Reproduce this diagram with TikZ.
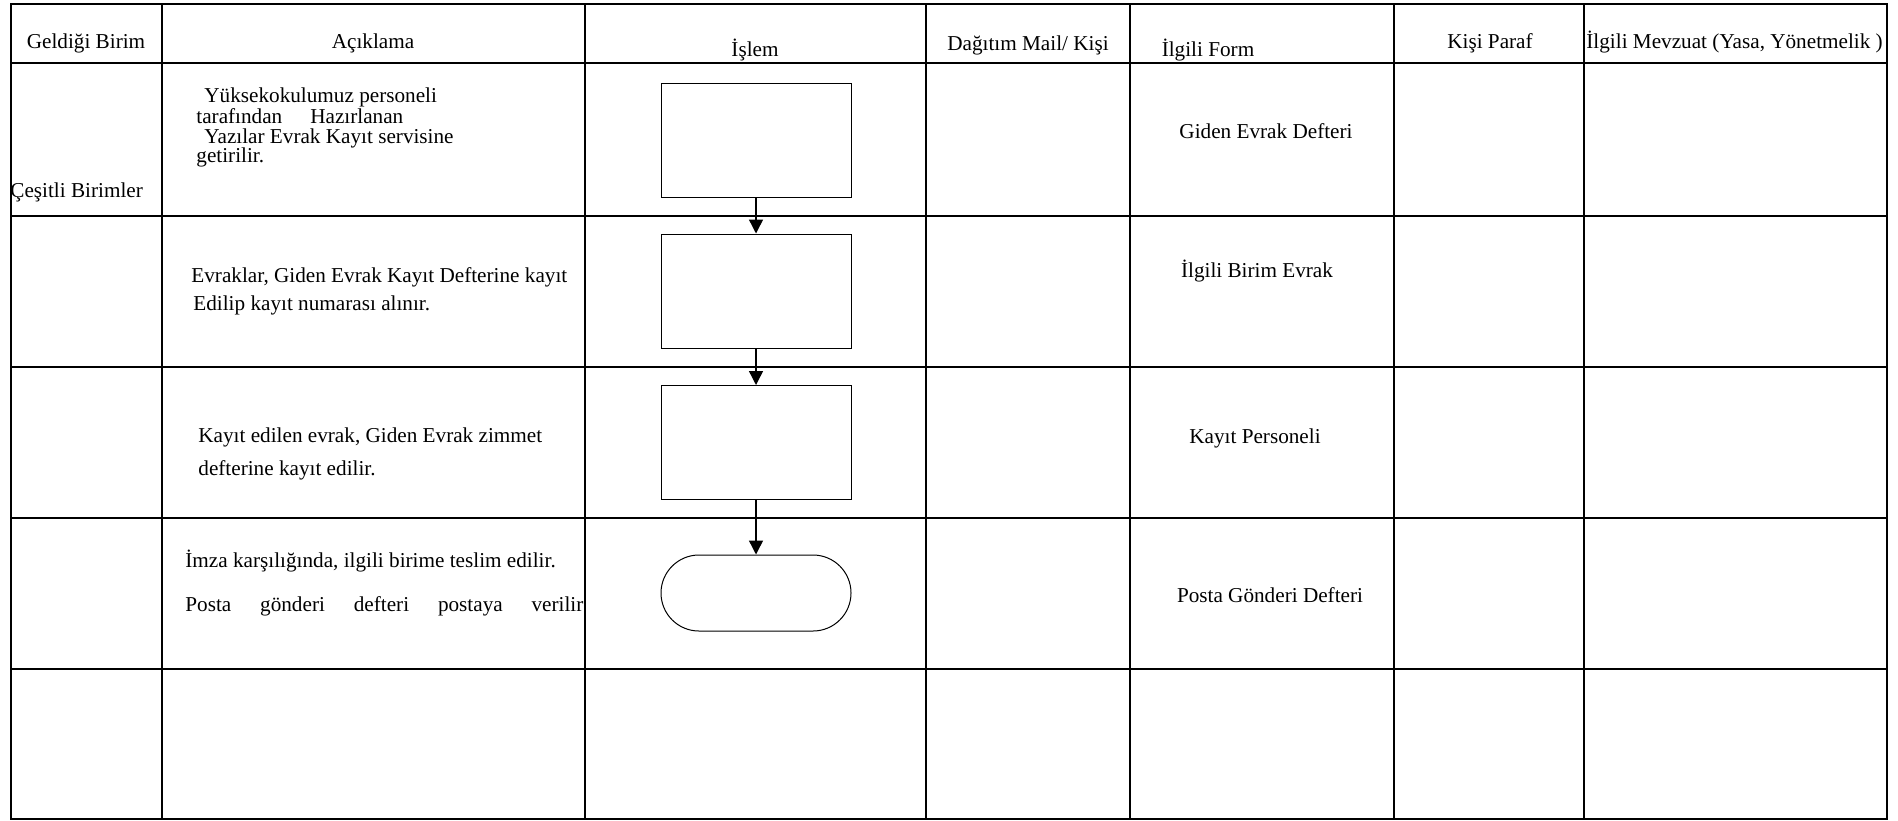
\documentclass[tikz,border=0pt]{standalone}
\usepackage{fontspec}
\setmainfont{Liberation Serif}
\usetikzlibrary{arrows.meta,shapes}
\tikzstyle{procbox}=[rectangle,draw,line width=0.5pt,minimum width=95pt,minimum height=57pt,inner sep=0pt]
\tikzstyle{endbox}=[rectangle,draw,line width=0.5pt,rounded corners=19pt,minimum width=95pt,minimum height=38pt,inner sep=0pt]
\tikzstyle{flow}=[draw,line width=0.7pt,-{Triangle[length=7pt,width=7pt]}]
\tikzstyle{tableline}=[line width=0.9pt]
\tikzstyle{cell}=[inner sep=0pt,anchor=base,font=\fontsize{10.6}{12}\selectfont]
\tikzstyle{lcell}=[cell,anchor=base west]

\begin{document}
\begin{tikzpicture}[x=0.5pt,y=-0.5pt]

    \useasboundingbox (0,0) rectangle (1898,820);

    \draw[tableline] (11,4) rectangle (1887,819);
    \foreach \x in {162,585,926,1130,1394,1584}
        \draw[tableline] (\x,4) -- (\x,819);
    \foreach \y in {63,216,367,518,669}
        \draw[tableline] (11,\y) -- (1887,\y);

    \node[cell] (hgel) at (86,48) {Geldiği Birim};
    \node[cell] (hack) at (373,48) {Açıklama};
    \node[cell] (hisl) at (755,56) {İşlem};
    \node[cell] (hdag) at (1028,50) {Dağıtım Mail/ Kişi};
    \node[cell] (hfrm) at (1208,56) {İlgili Form};
    \node[cell] (hpar) at (1490,48) {Kişi Paraf};
    \node[lcell] (hmev) at (1586,48) {İlgili Mevzuat (Yasa, Yönetmelik )};

    \node[lcell] (birim) at (10,197) {Çeşitli Birimler};

    \node[lcell] (a11) at (204,102) {Yüksekokulumuz personeli};
    \node[lcell] (a12) at (196,123) {tarafından\hspace{14pt}Hazırlanan};
    \node[lcell] (a13) at (204,143) {Yazılar Evrak Kayıt servisine};
    \node[lcell] (a14) at (196,162) {getirilir.};
    \node[lcell] (a21) at (191,282) {Evraklar, Giden Evrak Kayıt Defterine kayıt};
    \node[lcell] (a22) at (193,310) {Edilip kayıt numarası alınır.};
    \node[lcell] (a31) at (198,442) {Kayıt edilen evrak, Giden Evrak zimmet};
    \node[lcell] (a32) at (198,475) {defterine kayıt edilir.};
    \node[lcell] (a41) at (185,567) {İmza karşılığında, ilgili birime teslim edilir.};
    \node[lcell] (a42) at (185,611) {\makebox[199pt][s]{Posta gönderi defteri postaya verilir}};

    \node[cell] (f1) at (1266,138) {Giden Evrak Defteri};
    \node[cell] (f2) at (1257,277) {İlgili Birim Evrak};
    \node[cell] (f3) at (1255,443) {Kayıt Personeli};
    \node[cell] (f4) at (1270,602) {Posta Gönderi Defteri};

    \foreach \pos/\name in {{(756,140)/p1}, {(756,291)/p2}, {(756,442.5)/p3}}
        \node[procbox] (\name) at \pos {};
    \node[endbox] (p4) at (756,593) {};

    \foreach \source/\dest in {p1/p2,p2/p3,p3/p4}
        \path[flow] (\source) -- (\dest);

\end{tikzpicture}
\end{document}
